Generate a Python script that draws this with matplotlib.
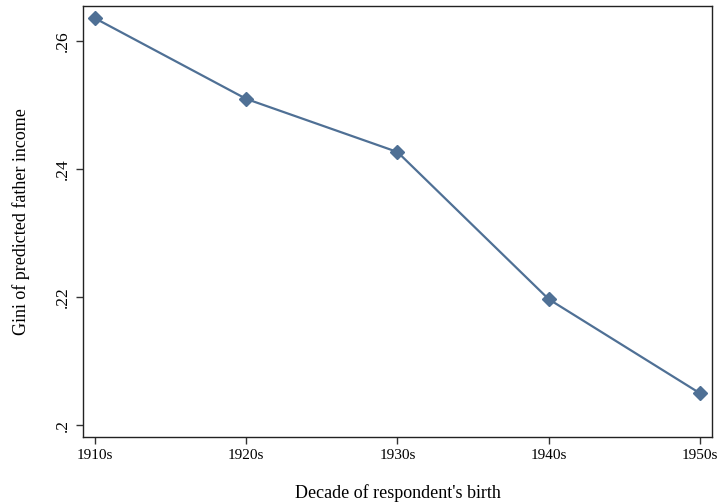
import matplotlib
matplotlib.use("Agg")
import matplotlib.pyplot as plt

decades = ["1910s", "1920s", "1930s", "1940s", "1950s"]
gini = [0.2636, 0.2510, 0.2427, 0.2197, 0.2050]
yticks = [0.20, 0.22, 0.24, 0.26]
ytick_labels = [".2", ".22", ".24", ".26"]

plt.rcParams['font.family'] = ['Liberation Serif', 'DejaVu Serif']

fig = plt.figure(figsize=(7.18, 5.04), dpi=100)
ax = fig.add_axes([0.1156, 0.1329, 0.876, 0.855])
x = list(range(len(decades)))
color = '#4f7095'
ax.plot(x, gini, color=color, lw=1.6, marker='D', ms=7, mec=color, mfc=color)
ax.set_xlim(-0.079, 4.079)
ax.set_ylim(0.19817, 0.2655)
ax.set_xticks(x)
ax.set_xticklabels(decades, fontsize=11)
ax.set_yticks(yticks)
ax.set_yticklabels(ytick_labels, fontsize=12.5, rotation=90, va='center')
ax.tick_params(direction='out', length=5, width=1, color='#333333')
for s in ax.spines.values():
    s.set_color('#222222')
    s.set_linewidth(1.0)
ax.set_xlabel("Decade of respondent's birth", fontsize=13, labelpad=16)
ax.set_ylabel("Gini of predicted father income", fontsize=13, labelpad=18)
fig.savefig("out.png", dpi=100)
